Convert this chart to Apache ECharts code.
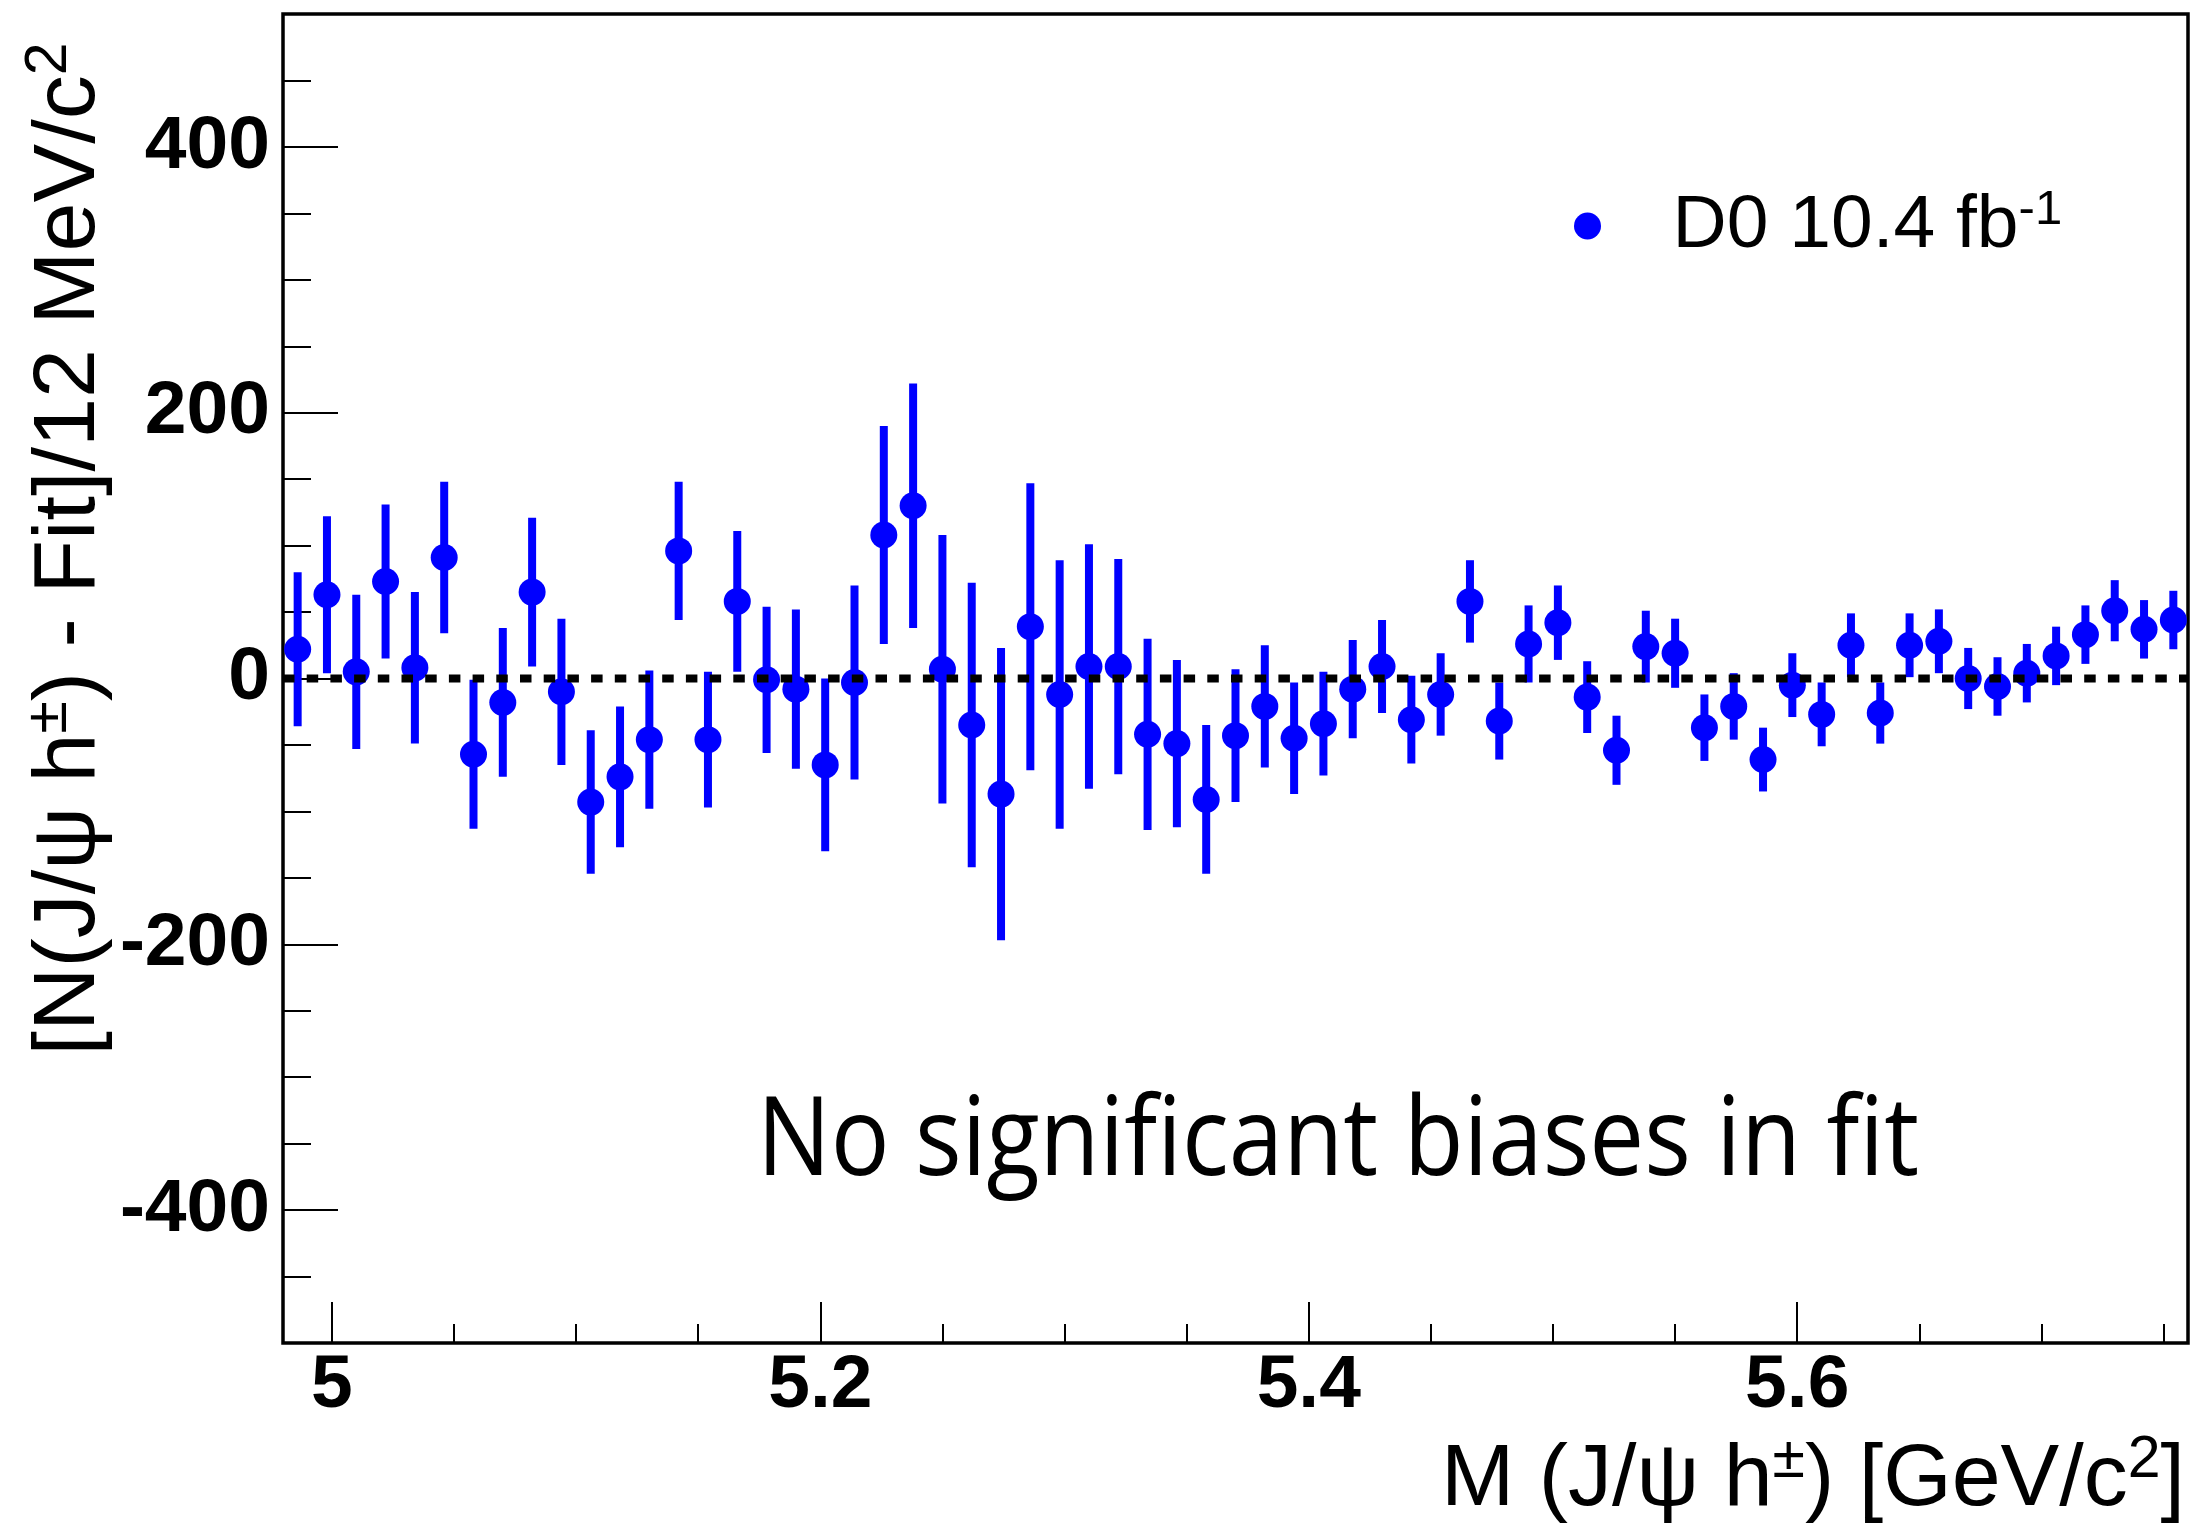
<!DOCTYPE html>
<html><head><meta charset="utf-8">
<script src="https://cdn.jsdelivr.net/npm/echarts@6/dist/echarts.min.js"></script>
<style>html,body{margin:0;padding:0;background:#fff}#main{width:2206px;height:1533px}</style>
</head><body><div id="main"></div>
<script>
// ---- data ----
const massBins = [4.986,4.998,5.010,5.022,5.034,5.046,5.058,5.070,5.082,5.094,
  5.106,5.118,5.130,5.142,5.154,5.166,5.178,5.190,5.202,5.214,
  5.226,5.238,5.250,5.262,5.274,5.286,5.298,5.310,5.322,5.334,
  5.346,5.358,5.370,5.382,5.394,5.406,5.418,5.430,5.442,5.454,
  5.466,5.478,5.490,5.502,5.514,5.526,5.538,5.550,5.562,5.574,
  5.586,5.598,5.610,5.622,5.634,5.646,5.658,5.670,5.682,5.694,
  5.706,5.718,5.730,5.742,5.754];
const residuals = [22,63,5,73,8,91,-57,-18,65,-10,
  -93,-74,-46,96,-46,58,-1,-8,-65,-3,
  108,130,7,-35,-87,39,-12,9,9,-42,
  -49,-91,-43,-21,-45,-34,-8,9,-31,-12,
  58,-32,26,42,-14,-54,24,19,-37,-21,
  -61,-5,-27,25,-26,25,28,0,-6,4,
  17,33,51,37,44];
const residualErrors = [58,59,58,58,57,57,56,56,56,55,
  54,53,52,52,51,53,55,60,65,73,
  82,92,101,107,110,108,101,92,81,72,
  63,56,50,46,42,39,37,35,33,31,
  31,29,29,28,27,26,27,26,25,25,
  24,24,24,24,23,24,24,23,22,22,
  22,22,23,22,22];
const xRange = [4.98, 5.76];
const yRange = [-500, 500];
const xMajorTicks = [5.0, 5.2, 5.4, 5.6];
const xMinorTicks = [5.05,5.1,5.15,5.25,5.3,5.35,5.45,5.5,5.55,5.65,5.7,5.75];
const yMajorTicks = [-400,-200,0,200,400];
const yMinorTicks = [-450,-350,-300,-250,-150,-100,-50,50,100,150,250,300,350,450];
const zeroLevel = 0;
const seriesName = 'D0 10.4 fb';
const seriesNameSup = '-1';
const annotation = 'No significant biases in fit';

// ---- build ----
const FONT = '"Liberation Sans", Arial, Helvetica, sans-serif';
const BLUE = '#0000ff';
const points = massBins.map((x, i) => [x, residuals[i], residualErrors[i]]);

const chart = echarts.init(document.getElementById('main'));
const tickLabel = {fontFamily: FONT, fontWeight: 'bold', fontSize: 75, color: '#000', lineHeight: 75};
const supRich = {
  m: {fontFamily: FONT, fontSize: 88, lineHeight: 100, color: '#000'},
  s: {fontFamily: FONT, fontSize: 59, lineHeight: 42, verticalAlign: 'top', color: '#000'}
};
const noLine = {show: false, onZero: false};

chart.setOption({
  backgroundColor: '#fff',
  animation: false,
  grid: {left: 283, top: 14, width: 1905, height: 1329, show: true,
         borderColor: '#000', borderWidth: 3.5, containLabel: false},
  xAxis: [
    {type: 'value', min: xRange[0], max: xRange[1], position: 'bottom',
     axisLine: noLine, splitLine: {show: false},
     axisTick: {show: true, inside: true, length: 41, customValues: xMajorTicks,
                lineStyle: {color: '#000', width: 2}},
     axisLabel: Object.assign({show: true, margin: 6, customValues: xMajorTicks}, tickLabel)},
    {type: 'value', min: xRange[0], max: xRange[1], position: 'bottom',
     axisLine: noLine, splitLine: {show: false}, axisLabel: {show: false},
     axisTick: {show: true, inside: true, length: 19, customValues: xMinorTicks,
                lineStyle: {color: '#000', width: 2}}}
  ],
  yAxis: [
    {type: 'value', min: yRange[0], max: yRange[1], position: 'left',
     axisLine: noLine, splitLine: {show: false},
     axisTick: {show: true, inside: true, length: 55, customValues: yMajorTicks,
                lineStyle: {color: '#000', width: 2}},
     axisLabel: Object.assign({show: true, margin: 13, customValues: yMajorTicks}, tickLabel)},
    {type: 'value', min: yRange[0], max: yRange[1], position: 'left',
     axisLine: noLine, splitLine: {show: false}, axisLabel: {show: false},
     axisTick: {show: true, inside: true, length: 28, customValues: yMinorTicks,
                lineStyle: {color: '#000', width: 2}}}
  ],
  legend: {
    show: true, left: 1569, top: 181, orient: 'vertical',
    itemWidth: 160, itemHeight: 27, icon: 'circle',
    itemStyle: {color: BLUE, opacity: 1},
    data: [seriesName],
    formatter: (n) => '{t|' + n + '}{s|' + seriesNameSup + '}',
    textStyle: {rich: {
      t: {fontFamily: FONT, fontSize: 75, lineHeight: 80, color: '#000'},
      s: {fontFamily: FONT, fontSize: 49, lineHeight: 31, verticalAlign: 'top', color: '#000'}
    }}
  },
  series: [
    {type: 'custom', name: 'errors', xAxisIndex: 0, yAxisIndex: 0, z: 2,
     data: points, encode: {x: 0, y: 1},
     renderItem: (params, api) => {
       const x = api.value(0), y = api.value(1), e = api.value(2);
       const lo = api.coord([x, y - e]), hi = api.coord([x, y + e]);
       return {type: 'line', shape: {x1: lo[0], y1: lo[1], x2: hi[0], y2: hi[1]},
               style: {stroke: BLUE, lineWidth: 8}};
     }},
    {type: 'scatter', name: seriesName, xAxisIndex: 0, yAxisIndex: 0, z: 3,
     data: points.map(p => [p[0], p[1]]), symbol: 'circle', symbolSize: 27,
     itemStyle: {color: BLUE, opacity: 1}, emphasis: {disabled: true}},
    {type: 'line', name: 'zero', xAxisIndex: 0, yAxisIndex: 0, z: 4,
     data: [[xRange[0], zeroLevel], [xRange[1], zeroLevel]], symbol: 'none',
     lineStyle: {color: '#000', width: 8, type: [11.5, 12.2], cap: 'butt'},
     emphasis: {disabled: true}}
  ],
  graphic: [
    {type: 'text', x: 70, y: 549, rotation: Math.PI / 2, silent: true,
     style: {text: '{m|[N(J/ψ h}{s|±}{m|) - Fit]/12 MeV/c}{s|2}', rich: supRich,
             align: 'center', verticalAlign: 'middle'}},
    {type: 'text', x: 2185, y: 1481, silent: true,
     style: {text: '{m|M (J/ψ h}{s|±}{m|) [GeV/c}{s|2}{m|]}', rich: supRich,
             align: 'right', verticalAlign: 'middle'}},
    {type: 'text', x: 757, y: 1144, scaleX: 0.89, silent: true,
     style: {text: annotation, fontFamily: '"Open Sans", sans-serif', fontSize: 110,
             fill: '#000', align: 'left', verticalAlign: 'middle'}}
  ]
});
</script></body></html>
